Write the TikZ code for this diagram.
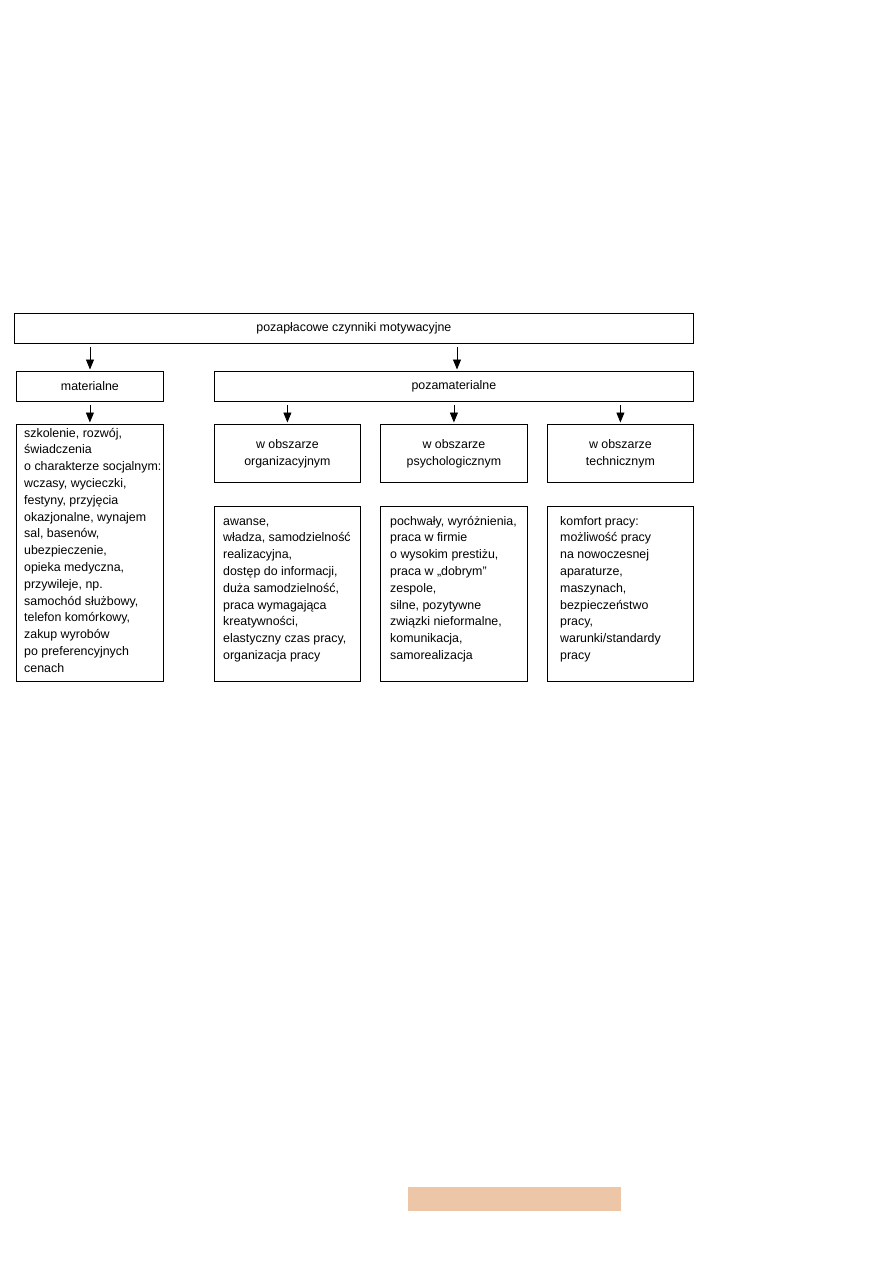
\documentclass[tikz,border=0pt]{standalone}
\usepackage{fontspec}
\setmainfont{Liberation Sans}
\usetikzlibrary{arrows.meta}
\newcommand\myfs{\fontsize{12.4}{16.8}\selectfont}
\definecolor{peach}{RGB}{237,198,168}
\tikzset{
  box/.style={draw, line width=0.8pt, inner sep=0pt, anchor=north west, font=\myfs, align=center},
  txt/.style={inner sep=0pt, anchor=base west, font=\myfs},
  arr/.style={line width=0.8pt, -{Triangle[length=10pt,width=8pt]}, shorten <=3.5pt, shorten >=1.5pt}
}
\begin{document}
\begin{tikzpicture}[x=1pt,y=-1pt]
\useasboundingbox (0,0) rectangle (893,1263);
% top
\node[box, minimum width=679pt, minimum height=30pt] (top) at (14,313) {pozapłacowe czynniki motywacyjne};
\node[box, minimum width=147pt, minimum height=30pt] (mat) at (16,371) {materialne};
\node[box, minimum width=479pt, minimum height=30pt] (poza) at (214,371) {pozamaterialne};
% area boxes
\node[box, minimum width=146pt, minimum height=58pt] (org) at (214,424) {w obszarze\\organizacyjnym};
\node[box, minimum width=147pt, minimum height=58pt] (psy) at (380,424) {w obszarze\\psychologicznym};
\node[box, minimum width=146pt, minimum height=58pt] (tec) at (547,424) {w obszarze\\technicznym};
% detail boxes
\node[box, minimum width=147pt, minimum height=257pt] (matd) at (16,424) {};
\node[box, minimum width=146pt, minimum height=175pt] (orgd) at (214,506) {};
\node[box, minimum width=147pt, minimum height=175pt] (psyd) at (380,506) {};
\node[box, minimum width=146pt, minimum height=175pt] (tecd) at (547,506) {};
% texts
\node[txt] (matdt) at ([shift={(8,13)}]matd.north west) {\parbox[t]{140pt}{\myfs\raggedright
szkolenie, rozwój,\\
świadczenia\\
o charakterze socjalnym:\\
wczasy, wycieczki,\\
festyny, przyjęcia\\
okazjonalne, wynajem\\
sal, basenów,\\
ubezpieczenie,\\
opieka medyczna,\\
przywileje, np.\\
samochód służbowy,\\
telefon komórkowy,\\
zakup wyrobów\\
po preferencyjnych\\
cenach}};
\node[txt] (orgdt) at ([shift={(9,19)}]orgd.north west) {\parbox[t]{137pt}{\myfs\raggedright
awanse,\\
władza, samodzielność\\
realizacyjna,\\
dostęp do informacji,\\
duża samodzielność,\\
praca wymagająca\\
kreatywności,\\
elastyczny czas pracy,\\
organizacja pracy}};
\node[txt] (psydt) at ([shift={(10,19)}]psyd.north west) {\parbox[t]{137pt}{\myfs\raggedright
pochwały, wyróżnienia,\\
praca w firmie\\
o wysokim prestiżu,\\
praca w „dobrym”\\
zespole,\\
silne, pozytywne\\
związki nieformalne,\\
komunikacja,\\
samorealizacja}};
\node[txt] (tecdt) at ([shift={(13,19)}]tecd.north west) {\parbox[t]{133pt}{\myfs\raggedright
komfort pracy:\\
możliwość pracy\\
na nowoczesnej\\
aparaturze,\\
maszynach,\\
bezpieczeństwo\\
pracy,\\
warunki/standardy\\
pracy}};
% arrows
\coordinate (a1) at (90,0);
\coordinate (a2) at (457,0);
\draw[arr] (top.south -| a1) -- (mat.north -| a1);
\draw[arr] (top.south -| a2) -- (poza.north -| a2);
\draw[arr] (mat.south) -- (matd.north);
\draw[arr] (poza.south -| org.north) -- (org.north);
\draw[arr] (poza.south -| psy.north) -- (psy.north);
\draw[arr] (poza.south -| tec.north) -- (tec.north);
% orange bar
\fill[peach] (408,1187) rectangle (621,1211);
\end{tikzpicture}
\end{document}
